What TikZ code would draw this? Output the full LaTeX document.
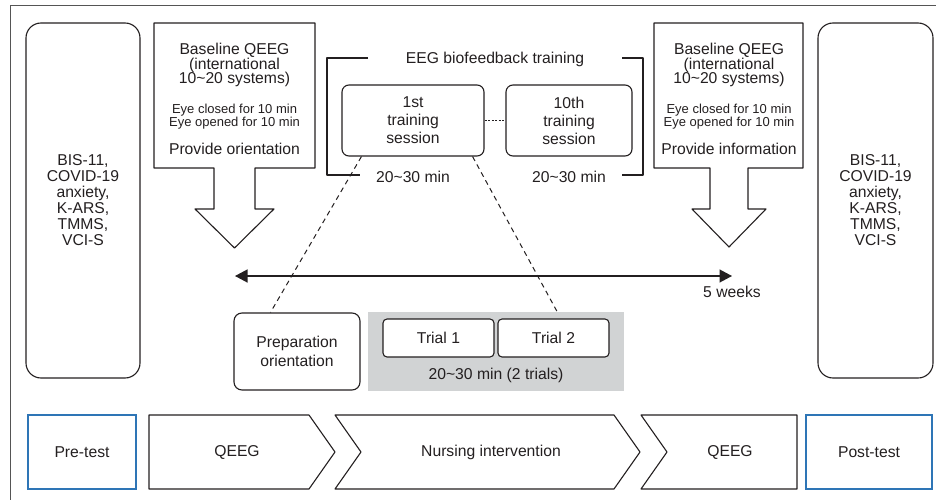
\documentclass[tikz,border=0pt]{standalone}
\usepackage{fontspec}
\setmainfont{Liberation Sans}
\usepackage{xcolor}
\usepackage{tikz}
\usetikzlibrary{arrows.meta}
\setlength{\lineskiplimit}{-20pt}
\definecolor{ink}{HTML}{231F20}
\definecolor{rim}{HTML}{555555}
\definecolor{testblue}{HTML}{2E75B6}
\definecolor{panel}{HTML}{D1D3D4}
\tikzset{
  base/.style={draw=ink, line width=1.1pt, line join=round},
  lab/.style={text=ink, font=\fontsize{15.7}{16}\selectfont, align=center, inner sep=0pt},
  labh/.style={lab, font=\fontsize{15.7}{14.7}\selectfont},
  labs/.style={lab, font=\fontsize{13}{12.8}\selectfont},
  side/.style={base, lab, rounded corners=15pt, minimum width=114pt, minimum height=355pt},
  sess/.style={base, lab, font=\fontsize{15.7}{18}\selectfont, rounded corners=7pt, minimum height=71pt},
  prepbox/.style={base, lab, font=\fontsize{15.7}{18.5}\selectfont, rounded corners=8pt, minimum width=126pt, minimum height=77pt},
  trial/.style={base, lab, fill=white, rounded corners=4pt, minimum width=111pt, minimum height=38pt},
  test/.style={draw=testblue, line width=1.1pt, lab, minimum height=74pt},
  help/.style={draw=ink, line width=1pt, dash pattern=on 5pt off 4pt},
  dotl/.style={draw=ink, line width=1pt, dash pattern=on 2pt off 1.5pt},
  span/.style={draw=ink, line width=1.3pt, arrows={Triangle[length=12.5pt,width=13pt]-Triangle[length=12.5pt,width=13pt]}},
}

\begin{document}
\begin{tikzpicture}[x=1pt, y=-1pt]
  \useasboundingbox (0,0) rectangle (936,500);
  \draw[rim, line width=1pt] (10,500) -- (10,6) -- (936,6);
  % measures before and after
  \node[side] (measL) at (83,200.5) {BIS-11,\\COVID-19\\anxiety,\\K-ARS,\\TMMS,\\VCI-S};
  \node[side, minimum width=115pt] (measR) at (875.5,200.5) {BIS-11,\\COVID-19\\anxiety,\\K-ARS,\\TMMS,\\VCI-S};
  % baseline QEEG block arrows
  \draw[base] (154,23) -- (315,23) -- (315,168) -- (255,168) -- (255,209) -- (274,209) -- (234.5,248)
    -- (195,209) -- (214,209) -- (214,168) -- (154,168) -- cycle;
  \draw[base] (654,23) -- (803,23) -- (803,168) -- (748,168) -- (748,209) -- (766,209) -- (729,247)
    -- (692,209) -- (710,209) -- (710,168) -- (654,168) -- cycle;
  \node[labh, anchor=north] (bqL) at (234.5,42.8) {Baseline QEEG\\(international\\10\textasciitilde20 systems)};
  \node[labs, anchor=north] (eyeL) at (234.5,103.7) {Eye closed for 10 min\\Eye opened for 10 min};
  \node[lab, anchor=base] (provL) at (234.5,154) {Provide orientation};
  \node[labh, anchor=north] (bqR) at (729,42.8) {Baseline QEEG\\(international\\10\textasciitilde20 systems)};
  \node[labs, anchor=north] (eyeR) at (729,103.7) {Eye closed for 10 min\\Eye opened for 10 min};
  \node[lab, anchor=base] (provR) at (729,154) {Provide information};
  % EEG biofeedback training bracket
  \draw[base] (368,58) -- (327,58) -- (327,175) -- (360,175);
  \draw[base] (622,58) -- (643,58) -- (643,175) -- (622,175);
  \node[lab, anchor=base] (eeg) at (495,63.3) {EEG biofeedback training};
  \node[sess, minimum width=142pt] (s1) at (413,120.5) {1st\\training\\session};
  \node[sess, minimum width=126pt] (s10) at (569,120.5) {10th\\training\\session};
  \node[lab, anchor=base] (t1) at (413,182.3) {20\textasciitilde30 min};
  \node[lab, anchor=base] (t10) at (569,182.3) {20\textasciitilde30 min};
  \draw[dotl] (s1) -- (s10);
  % one session in detail
  \node[prepbox] (prep) at (297,351.5) {Preparation\\orientation};
  \node[fill=panel, inner sep=0pt, minimum width=256pt, minimum height=79pt] (trials) at (496,351.5) {};
  \node[trial] (tr1) at (438.5,338) {Trial 1};
  \node[trial] (tr2) at (553.5,338) {Trial 2};
  \node[lab, anchor=base] (trt) at (496,379) {20\textasciitilde30 min (2 trials)};
  \draw[help] ([xshift=20pt]s1.south west) -- ([xshift=37pt]prep.north west);
  \draw[help] ([xshift=-12pt]s1.south east) -- ([xshift=-67pt]trials.north east);
  % 5 weeks span
  \coordinate (wk0) at (235,276);
  \coordinate (wk1) at (732,276);
  \draw[span] (wk0) -- (wk1);
  \node[lab, anchor=base] (wk) at ([yshift=-21pt]wk1) {5 weeks};
  % phases
  \node[test, minimum width=108pt] (pre) at (82,452) {Pre-test};
  \draw[base] (149,415) -- (309,415) -- (335,452) -- (309,489) -- (149,489) -- cycle;
  \draw[base] (335,415) -- (614,415) -- (640,452) -- (614,489) -- (335,489) -- (361,452) -- cycle;
  \draw[base] (641,415) -- (797,415) -- (797,489) -- (641,489) -- (667,452) -- cycle;
  \node[lab] (q1) at (237,452) {QEEG};
  \node[lab] (nurs) at (491,452) {Nursing intervention};
  \node[lab] (q2) at (730,452) {QEEG};
  \node[test, minimum width=126pt] (post) at (869,452) {Post-test};
\end{tikzpicture}
\end{document}
